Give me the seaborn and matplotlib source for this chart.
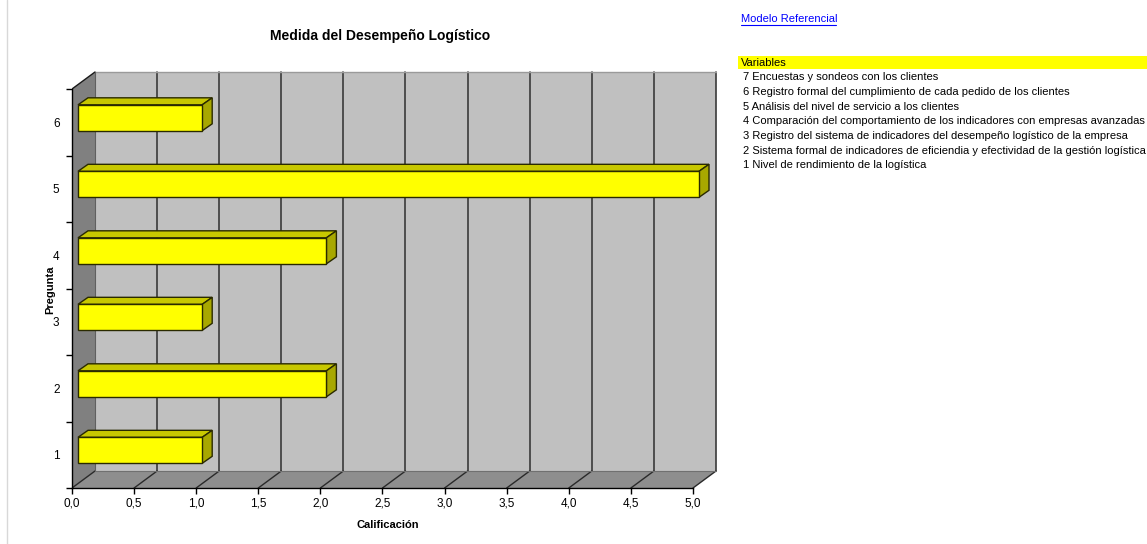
import matplotlib
matplotlib.use("Agg")
import matplotlib.pyplot as plt
from matplotlib.patches import Polygon, Rectangle
from matplotlib.lines import Line2D
import seaborn as sns
import pandas as pd
import numpy as np

# ---- data ----
preguntas = ["6", "5", "4", "3", "2", "1"]
calificacion = [1.0, 5.0, 2.0, 1.0, 2.0, 1.0]
x_ticks = [0.0, 0.5, 1.0, 1.5, 2.0, 2.5, 3.0, 3.5, 4.0, 4.5, 5.0]
variables = [
    "7 Encuestas y sondeos con los clientes",
    "6 Registro formal del cumplimiento de cada pedido de los clientes",
    "5 Análisis del nivel de servicio a los clientes",
    "4 Comparación del comportamiento de los indicadores con empresas avanzadas",
    "3 Registro del sistema de indicadores del desempeño logístico de la empresa",
    "2 Sistema formal de indicadores de eficiendia y efectividad de la gestión logística",
    "1 Nivel de rendimiento de la logística",
]
title = "Medida del Desempeño Logístico"
xlabel = "Calificación"
ylabel = "Pregunta"

df = pd.DataFrame({"Pregunta": preguntas, "Calificacion": calificacion})

sns.set_theme(style="white")
plt.rcParams["font.family"] = ["Liberation Sans", "DejaVu Sans"]
plt.rcParams["text.color"] = "#000000"
plt.rcParams["xtick.color"] = "#000000"
plt.rcParams["ytick.color"] = "#000000"
plt.rcParams["xtick.labelcolor"] = "#000000"
plt.rcParams["ytick.labelcolor"] = "#000000"

W, H = 1147, 544
fig = plt.figure(figsize=(W / 100, H / 100), dpi=100)

# axes geometry in pixels (front plane)
px0 = 72.0          # x=0
ppu_x = 124.2       # px per value unit
py_top = 69.0       # top of axes
py_bot = 488.0      # y = 5.5 (front floor)
ppu_y = 66.5
xmax = 5.2
ymin_top = 5.5 - (py_bot - py_top) / ppu_y
ax = fig.add_axes([px0 / W, (H - py_bot) / H, xmax * ppu_x / W, (py_bot - py_top) / H])

DX = 23.0 / ppu_x       # full depth offset (value units)
DY = -17.0 / ppu_y      # full depth offset (category units, upward)

# walls & floor
back = Rectangle((DX, -0.5 + DY), 5.0, 6.0, facecolor="#c0c0c0", edgecolor="none", zorder=0)
ax.add_patch(back)
left_wall = Polygon([(0, -0.5), (DX, -0.5 + DY), (DX, 5.5 + DY), (0, 5.5)],
                    closed=True, facecolor="#808080", edgecolor="none", zorder=0.5)
ax.add_patch(left_wall)
floor = Polygon([(0, 5.5), (5, 5.5), (5 + DX, 5.5 + DY), (DX, 5.5 + DY)],
                closed=True, facecolor="#8e8e8e", edgecolor="none", zorder=0.5)
ax.add_patch(floor)

# gridlines on back wall and floor
for v in x_ticks:
    if v > 0:
        ax.add_line(Line2D([v + DX, v + DX], [5.5 + DY, -0.5 + DY], color="#3a3a3a", lw=1.2, zorder=1))
    ax.add_line(Line2D([v, v + DX], [5.5, 5.5 + DY], color="#2a2a2a", lw=1.0, zorder=1))
ax.add_line(Line2D([DX, 5 + DX], [-0.5 + DY, -0.5 + DY], color="#9a9a9a", lw=1.0, zorder=1))
ax.add_line(Line2D([0, DX], [-0.5, -0.5 + DY], color="#1a1a1a", lw=1.0, zorder=1))
ax.add_line(Line2D([DX, DX], [-0.5 + DY, 5.5 + DY], color="#606060", lw=0.8, zorder=1))
ax.add_line(Line2D([DX, 5 + DX], [5.5 + DY, 5.5 + DY], color="#707070", lw=0.8, zorder=1))

# bars
bar_h = 26.0 / ppu_y
sns.barplot(data=df, x="Calificacion", y="Pregunta", order=preguntas, orient="h",
            color="#ffff00", saturation=1, width=bar_h, edgecolor="#2a2a00",
            linewidth=1.0, ax=ax, zorder=3)

f1 = 6.0 / 23.0
bdx = 10.0 / ppu_x
bdy = -7.0 / ppu_y
for p in ax.patches:
    if not isinstance(p, Rectangle) or p is back:
        continue
    if p.get_facecolor()[2] > 0.2:
        continue
    p.set_x(p.get_x() + f1 * DX)
    p.set_y(p.get_y() + f1 * DY)
    x0 = p.get_x()
    x1 = x0 + p.get_width()
    yt = p.get_y()
    yb = yt + p.get_height()
    if p.get_height() < 0:
        yt, yb = yb, yt
    top = Polygon([(x0, yt), (x1, yt), (x1 + bdx, yt + bdy), (x0 + bdx, yt + bdy)],
                  closed=True, facecolor="#c8c800", edgecolor="#2a2a00", lw=1.0, zorder=2.9)
    side = Polygon([(x1, yt), (x1, yb), (x1 + bdx, yb + bdy), (x1 + bdx, yt + bdy)],
                   closed=True, facecolor="#a8a800", edgecolor="#2a2a00", lw=1.0, zorder=2.9)
    ax.add_patch(top)
    ax.add_patch(side)

ax.set_xlim(0, xmax)
ax.set_ylim(5.5, ymin_top)

for s in ["top", "right"]:
    ax.spines[s].set_visible(False)
for s in ["left", "bottom"]:
    ax.spines[s].set_color("#000000")
    ax.spines[s].set_linewidth(1.0)
ax.spines["left"].set_bounds(-0.5, 5.5)
ax.spines["bottom"].set_bounds(0, 5)

ax.set_xticks(x_ticks)
ax.set_xticklabels([f"{v:.1f}".replace(".", ",") for v in x_ticks], fontsize=8.5, color="#000000")
ax.set_yticks(range(len(preguntas)))
ax.set_yticklabels(preguntas, fontsize=8.5, color="#000000")
ax.set_yticks(np.arange(-0.5, 6.0, 1.0), minor=True)
ax.tick_params(axis="x", which="major", direction="out", length=4, width=1, color="#000000",
               pad=3, bottom=True)
ax.tick_params(axis="y", which="major", length=0, pad=9)
ax.tick_params(axis="y", which="minor", direction="out", length=4, width=1, color="#000000", left=True)
ax.grid(False)
ax.set_xlabel("")
ax.set_ylabel("")

fig.text(380 / W, 1 - 36 / H, title, ha="center", va="center", fontsize=10, fontweight="bold",
         color="#000000")
fig.text(388 / W, 1 - 525 / H, xlabel, ha="center", va="center", fontsize=8, fontweight="bold",
         color="#000000")
fig.text(50 / W, 1 - 290 / H, ylabel, ha="center", va="center", fontsize=8, fontweight="bold",
         rotation=90, color="#000000")

# left border line
fig.add_artist(Line2D([7 / W, 7 / W], [0, 1], color="#d8d8d8", lw=1.0, transform=fig.transFigure))

# right side text
fig.text(741 / W, 1 - 19 / H, "Modelo Referencial", ha="left", va="center", fontsize=8,
         color="#0000ff")
fig.add_artist(Line2D([741 / W, 836 / W], [1 - 25 / H, 1 - 25 / H], color="#0000ff", lw=0.8,
                      transform=fig.transFigure))
fig.add_artist(Rectangle((738 / W, 1 - 69 / H), (W - 738) / W, 13 / H, facecolor="#ffff00",
                         edgecolor="none", transform=fig.transFigure))
fig.text(741 / W, 1 - 62.5 / H, "Variables", ha="left", va="center", fontsize=8, color="#000000")
for i, t in enumerate(variables):
    fig.text(743 / W, 1 - (77.5 + i * 14.6) / H, t, ha="left", va="center", fontsize=8,
             color="#000000")

fig.savefig("out.png", dpi=100)
